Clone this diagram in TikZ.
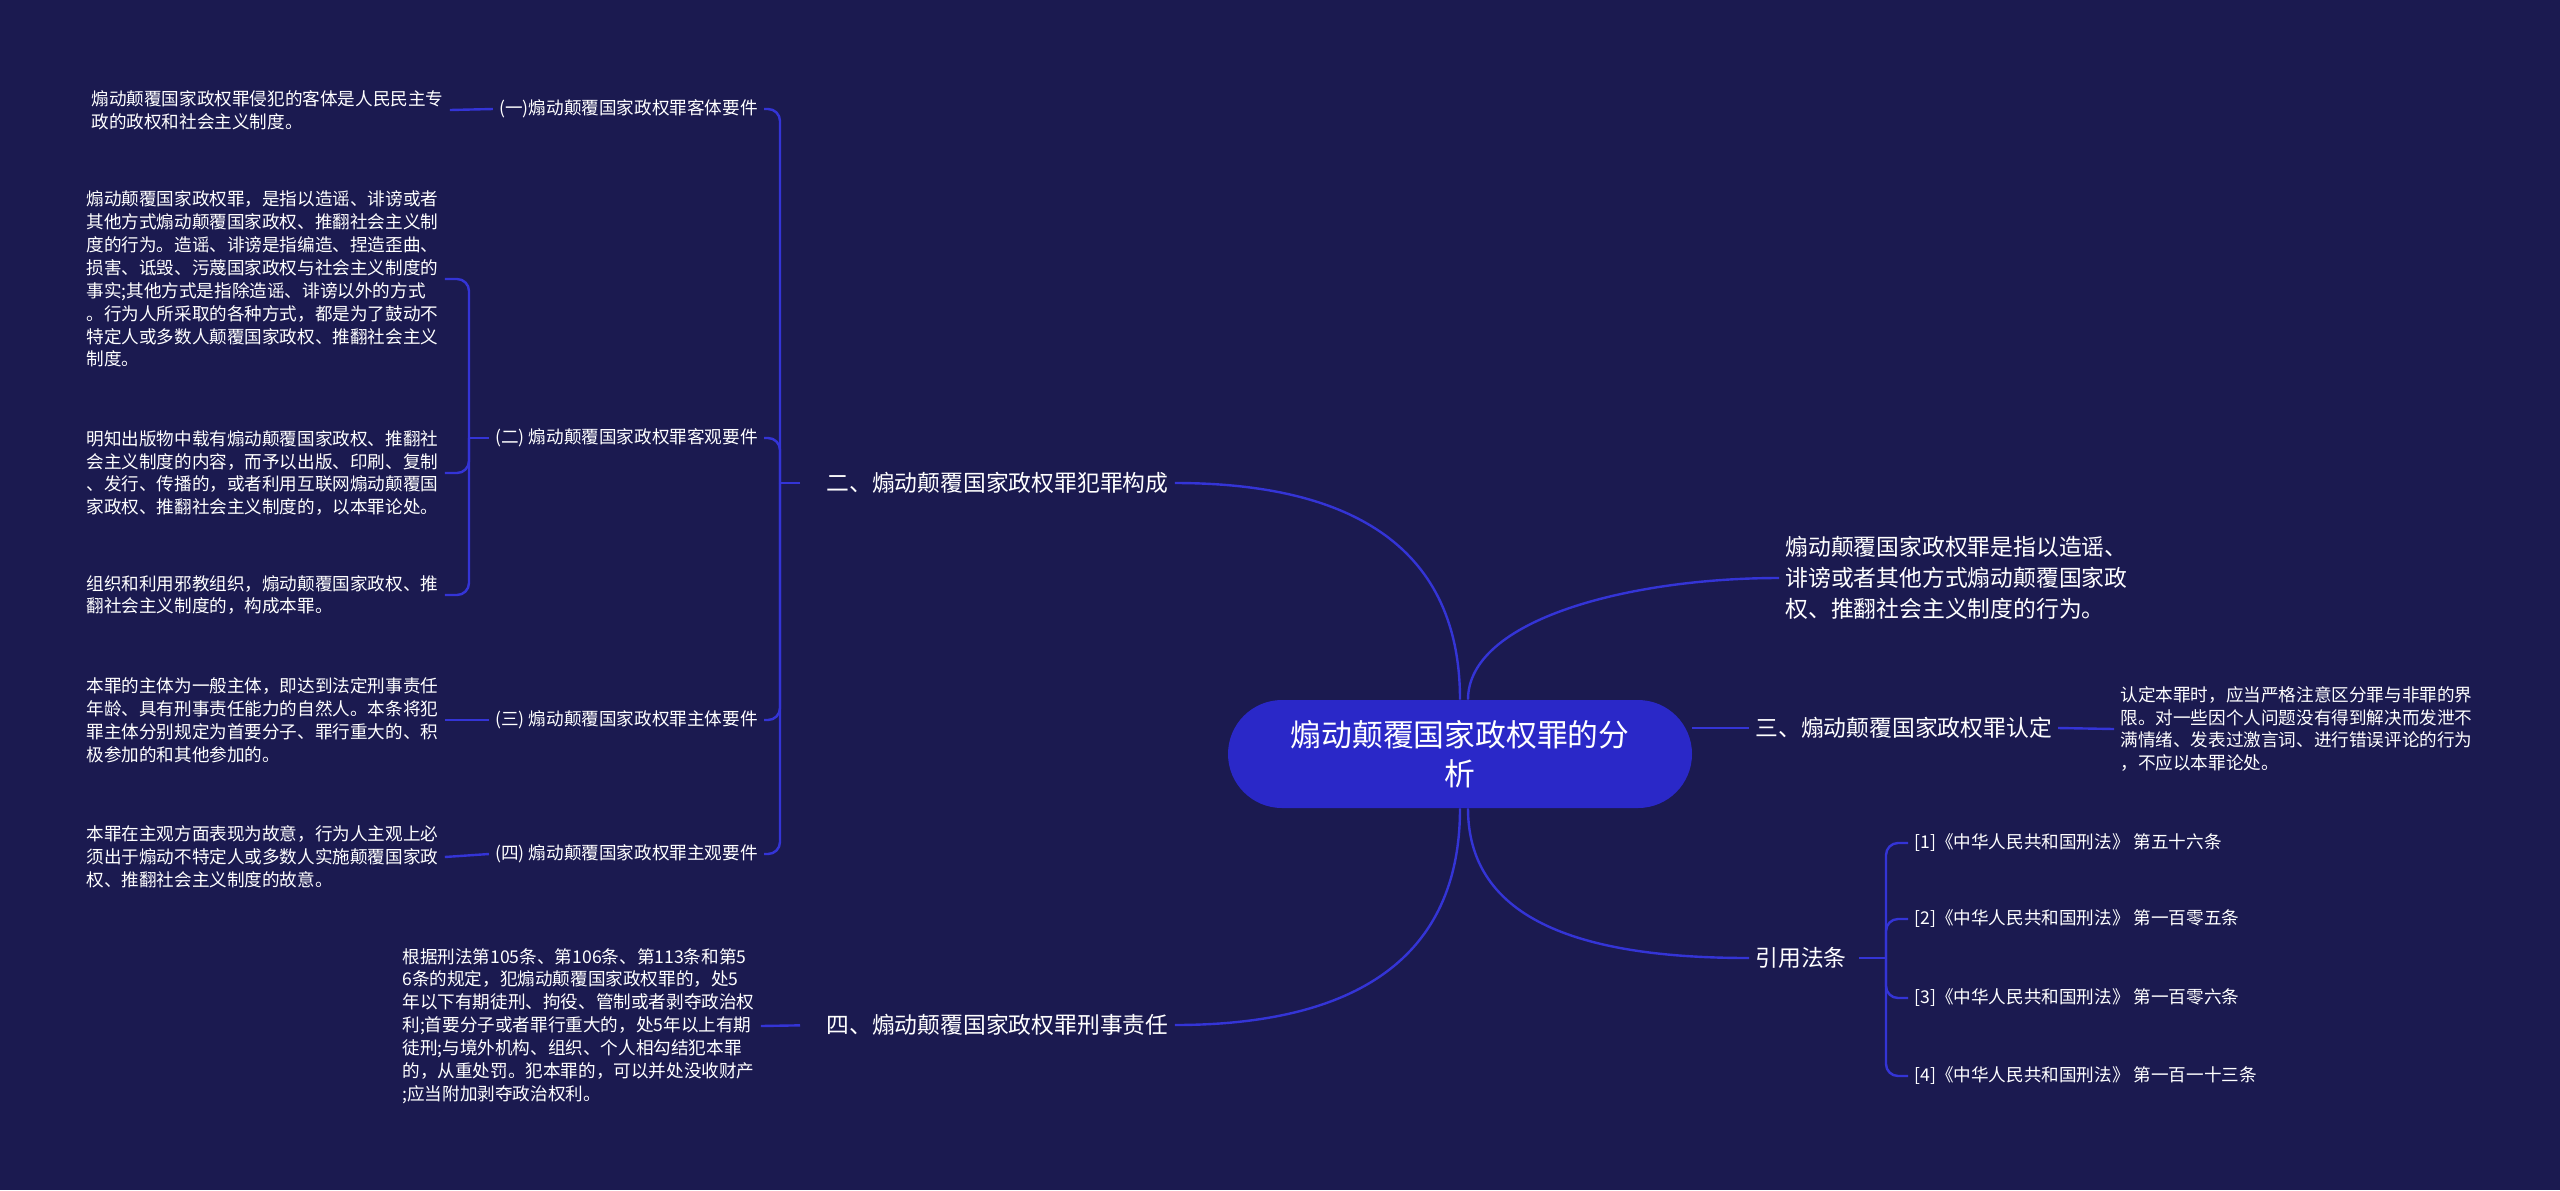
\documentclass[tikz,border=0pt]{standalone}
\usepackage{fontspec}
\setmainfont{Noto Sans CJK SC}
\usetikzlibrary{positioning}
\definecolor{bgnavy}{RGB}{27,26,80}
\definecolor{rootblue}{RGB}{42,40,200}
\definecolor{linkblue}{RGB}{52,52,214}
\tikzset{
    rootnode/.style={fill=rootblue, text=white, rounded corners=27pt, minimum width=232pt, minimum height=54pt, align=center, font=\fontsize{15.4}{19.6}\selectfont},
    topic/.style={text=white, align=left, inner sep=3pt, font=\fontsize{11.4}{15.5}\selectfont},
    leaf/.style={text=white, align=left, inner sep=3pt, font=\fontsize{8.8}{11.45}\selectfont},
    link/.style={draw=linkblue, line width=1.2pt}
}
\begin{document}
\begin{tikzpicture}[x=0.5pt, y=-0.5pt]
                    \fill[bgnavy] (0,0) rectangle (2560,1190);
                    \node (root) [rootnode] at (1460,754) {煽动颠覆国家政权罪的分\\析};
                    \node (crime) [topic, anchor=west] at (820,483) {二、煽动颠覆国家政权罪犯罪构成};
                    \node (duty) [topic, anchor=west] at (820,1025) {四、煽动颠覆国家政权罪刑事责任};
                    \node (defn) [topic, anchor=west] at (1779,578) {煽动颠覆国家政权罪是指以造谣、\\诽谤或者其他方式煽动颠覆国家政\\权、推翻社会主义制度的行为。};
                    \node (judge) [topic, anchor=west] at (1749,728) {三、煽动颠覆国家政权罪认定};
                    \node (laws) [topic, anchor=west] at (1749,958) {引用法条};
                    \node (obj) [leaf, anchor=east] at (764,109) {(一)煽动颠覆国家政权罪客体要件};
                    \node (act) [leaf, anchor=east] at (764,438) {(二) 煽动颠覆国家政权罪客观要件};
                    \node (subj) [leaf, anchor=east] at (764,720) {(三) 煽动颠覆国家政权罪主体要件};
                    \node (mind) [leaf, anchor=east] at (764,854) {(四) 煽动颠覆国家政权罪主观要件};
                    \node (objtxt) [leaf, anchor=west] at (85,110) {煽动颠覆国家政权罪侵犯的客体是人民民主专\\政的政权和社会主义制度。};
                    \node (acttxta) [leaf, anchor=west] at (80,279) {煽动颠覆国家政权罪，是指以造谣、诽谤或者\\其他方式煽动颠覆国家政权、推翻社会主义制\\度的行为。造谣、诽谤是指编造、捏造歪曲、\\损害、诋毁、污蔑国家政权与社会主义制度的\\事实;其他方式是指除造谣、诽谤以外的方式\\。行为人所采取的各种方式，都是为了鼓动不\\特定人或多数人颠覆国家政权、推翻社会主义\\制度。};
                    \node (acttxtb) [leaf, anchor=west] at (80,473) {明知出版物中载有煽动颠覆国家政权、推翻社\\会主义制度的内容，而予以出版、印刷、复制\\、发行、传播的，或者利用互联网煽动颠覆国\\家政权、推翻社会主义制度的，以本罪论处。};
                    \node (acttxtc) [leaf, anchor=west] at (80,595) {组织和利用邪教组织，煽动颠覆国家政权、推\\翻社会主义制度的，构成本罪。};
                    \node (subjtxt) [leaf, anchor=west] at (80,720) {本罪的主体为一般主体，即达到法定刑事责任\\年龄、具有刑事责任能力的自然人。本条将犯\\罪主体分别规定为首要分子、罪行重大的、积\\极参加的和其他参加的。};
                    \node (mindtxt) [leaf, anchor=west] at (80,857) {本罪在主观方面表现为故意，行为人主观上必\\须出于煽动不特定人或多数人实施颠覆国家政\\权、推翻社会主义制度的故意。};
                    \node (dutytxt) [leaf, anchor=west] at (396,1026) {根据刑法第105条、第106条、第113条和第5\\6条的规定，犯煽动颠覆国家政权罪的，处5\\年以下有期徒刑、拘役、管制或者剥夺政治权\\利;首要分子或者罪行重大的，处5年以上有期\\徒刑;与境外机构、组织、个人相勾结犯本罪\\的，从重处罚。犯本罪的，可以并处没收财产\\;应当附加剥夺政治权利。};
                    \node (judgetxt) [leaf, anchor=west] at (2114,729) {认定本罪时，应当严格注意区分罪与非罪的界\\限。对一些因个人问题没有得到解决而发泄不\\满情绪、发表过激言词、进行错误评论的行为\\，不应以本罪论处。};
                    \node (law1) [leaf, anchor=west] at (1908,843) {[1]《中华人民共和国刑法》 第五十六条};
                    \node (law2) [leaf, anchor=west] at (1908,919) {[2]《中华人民共和国刑法》 第一百零五条};
                    \node (law3) [leaf, anchor=west] at (1908,998) {[3]《中华人民共和国刑法》 第一百零六条};
                    \node (law4) [leaf, anchor=west] at (1908,1076) {[4]《中华人民共和国刑法》 第一百一十三条};
                    \coordinate (crimefork) at (780,483);
                    \coordinate (actfork) at (469,438);
                    \coordinate (lawsfork) at (1886,958);
                    \draw[link] (root.north) .. controls +(0,-150) and +(180,0) .. (crime.east);
                    \draw[link] (root.south) .. controls +(0,150) and +(180,0) .. (duty.east);
                    \draw[link] ([xshift=4pt]root.north) .. controls +(0,-80) and +(-150,0) .. (defn.west);
                    \draw[link] (root.east |- judge.west) -- (judge.west);
                    \draw[link] ([xshift=4pt]root.south) .. controls +(0,120) and +(-150,0) .. (laws.west);
                    \draw[link, shorten <=10pt] (crime.west) -- (crimefork);
                    \foreach \kid in {obj,act,subj,mind}
                        \draw[link, rounded corners=6pt] (crimefork) |- (\kid.east);
                    \draw[link] (act.west) -- (actfork);
                    \foreach \kid in {acttxta,acttxtb,acttxtc}
                        \draw[link, rounded corners=6pt] (actfork) |- (\kid.east);
                    \draw[link] (objtxt.east) -- (obj.west);
                    \draw[link] (subjtxt.east) -- (subj.west);
                    \draw[link] (mindtxt.east) -- (mind.west);
                    \draw[link, shorten >=10pt] (dutytxt.east) -- (duty.west);
                    \draw[link] (judge.east) -- (judgetxt.west);
                    \draw[link, shorten <=3pt] (laws.east) -- (lawsfork);
                    \foreach \kid in {law1,law2,law3,law4}
                        \draw[link, rounded corners=6pt] (lawsfork) |- (\kid.west);
                \end{tikzpicture}
\end{document}
